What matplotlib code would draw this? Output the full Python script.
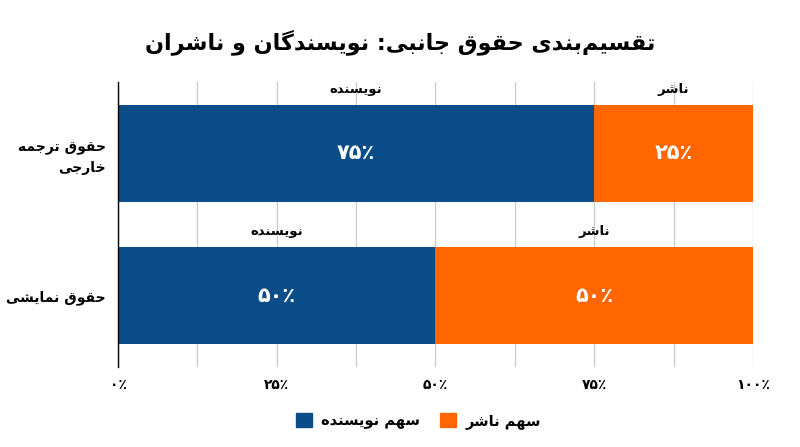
import matplotlib
matplotlib.use("Agg")
import matplotlib.pyplot as plt
from matplotlib.patches import Patch

# ---------------- data ----------------
categories = ["حقوق ترجمه\nخارجی", "حقوق نمایشی"]
author_share = [75, 50]
publisher_share = [25, 50]
author_labels = ["۷۵٪", "۵۰٪"]
publisher_labels = ["۲۵٪", "۵۰٪"]
series_names = ["نویسنده", "ناشر"]
legend_names = ["سهم نویسنده", "سهم ناشر"]
tick_values = [0, 25, 50, 75, 100]
tick_labels = ["۰٪", "۲۵٪", "۵۰٪", "۷۵٪", "۱۰۰٪"]
title = "تقسیم‌بندی حقوق جانبی: نویسندگان و ناشران"

# ------------- simple Persian shaping (presentation forms + RTL) -------------
FORMS = {
    'ا': ('\uFE8D', '\uFE8E', None, None),
    'ب': ('\uFE8F', '\uFE90', '\uFE91', '\uFE92'),
    'ت': ('\uFE95', '\uFE96', '\uFE97', '\uFE98'),
    'ج': ('\uFE9D', '\uFE9E', '\uFE9F', '\uFEA0'),
    'ح': ('\uFEA1', '\uFEA2', '\uFEA3', '\uFEA4'),
    'خ': ('\uFEA5', '\uFEA6', '\uFEA7', '\uFEA8'),
    'د': ('\uFEA9', '\uFEAA', None, None),
    'ر': ('\uFEAD', '\uFEAE', None, None),
    'س': ('\uFEB1', '\uFEB2', '\uFEB3', '\uFEB4'),
    'ش': ('\uFEB5', '\uFEB6', '\uFEB7', '\uFEB8'),
    'ق': ('\uFED5', '\uFED6', '\uFED7', '\uFED8'),
    'م': ('\uFEE1', '\uFEE2', '\uFEE3', '\uFEE4'),
    'ن': ('\uFEE5', '\uFEE6', '\uFEE7', '\uFEE8'),
    'ه': ('\uFEE9', '\uFEEA', '\uFEEB', '\uFEEC'),
    'و': ('\uFEED', '\uFEEE', None, None),
    'ی': ('\uFEEF', '\uFEF0', '\uFEF3', '\uFEF4'),
    'گ': ('\uFB92', '\uFB93', '\uFB94', '\uFB95'),
}


def shape_line(text):
    chars = list(text)
    n = len(chars)
    out = []
    for i, c in enumerate(chars):
        if c not in FORMS:
            out.append(c)
            continue
        prev = chars[i - 1] if i > 0 else None
        nxt = chars[i + 1] if i < n - 1 else None
        join_prev = prev in FORMS and FORMS[prev][2] is not None
        join_next = nxt in FORMS and FORMS[c][2] is not None
        iso, fin, ini, med = FORMS[c]
        if join_prev and join_next:
            g = med
        elif join_prev:
            g = fin
        elif join_next:
            g = ini
        else:
            g = iso
        out.append(g)
    s = "".join(ch for ch in out if ch != "\u200c")
    return s[::-1]


def fa(text):
    return "\n".join(shape_line(line) for line in text.split("\n"))


# ---------------- plot ----------------
plt.rcParams['font.family'] = ['DejaVu Sans']
plt.rcParams['font.weight'] = 'bold'

BLUE = "#0B4D89"
ORANGE = "#FF6600"

fig = plt.figure(figsize=(8, 4.47), dpi=100)
ax = fig.add_axes([0.1475, 0.179, 0.7937, 0.6375])

y = [1, 0]
h = 0.68
ax.barh(y, author_share, height=h, color=BLUE, zorder=2)
ax.barh(y, publisher_share, left=author_share, height=h, color=ORANGE, zorder=2)

for yi, a, p, al, pl in zip(y, author_share, publisher_share, author_labels, publisher_labels):
    ax.text(a / 2, yi, al, color="white", ha="center", va="center",
            fontsize=15, fontweight="bold", zorder=3)
    ax.text(a + p / 2, yi, pl, color="white", ha="center", va="center",
            fontsize=15, fontweight="bold", zorder=3)
    ax.text(a / 2, yi + h / 2 + 0.11, fa(series_names[0]), color="black",
            ha="center", va="center", fontsize=9.5, fontweight="bold", zorder=3)
    ax.text(a + p / 2, yi + h / 2 + 0.11, fa(series_names[1]), color="black",
            ha="center", va="center", fontsize=9.5, fontweight="bold", zorder=3)

ax.set_xlim(0, 100)
ax.set_ylim(-0.5, 1.5)
ax.set_xticks(tick_values)
ax.set_xticklabels(tick_labels, fontsize=10, fontweight="bold")
ax.set_xticks([12.5, 37.5, 62.5, 87.5], minor=True)
ax.grid(axis="x", which="both", color="#cccccc", linewidth=1, zorder=0)
ax.set_yticks(y)
ax.set_yticklabels([fa(c) for c in categories], fontsize=10, fontweight="bold",
                   ha="right", multialignment="right", linespacing=1.6)
ax.tick_params(axis="both", which="both", length=0)
ax.tick_params(axis="x", pad=8)
ax.tick_params(axis="y", pad=9)
for s in ["top", "right", "bottom"]:
    ax.spines[s].set_visible(False)
ax.spines["left"].set_color("black")
ax.spines["left"].set_linewidth(1)
ax.spines["left"].set_zorder(4)

fig.suptitle(fa(title), y=0.935, fontsize=16, fontweight="bold")

handles = [Patch(color=BLUE), Patch(color=ORANGE)]
fig.legend(handles, [fa(n) for n in legend_names], loc="center",
           bbox_to_anchor=(0.523, 0.058), ncol=2, frameon=False,
           prop={"size": 10.5, "weight": "bold"}, handlelength=1.1,
           handleheight=1.1, columnspacing=1.4, handletextpad=0.6)

fig.savefig("out.png", dpi=100)
